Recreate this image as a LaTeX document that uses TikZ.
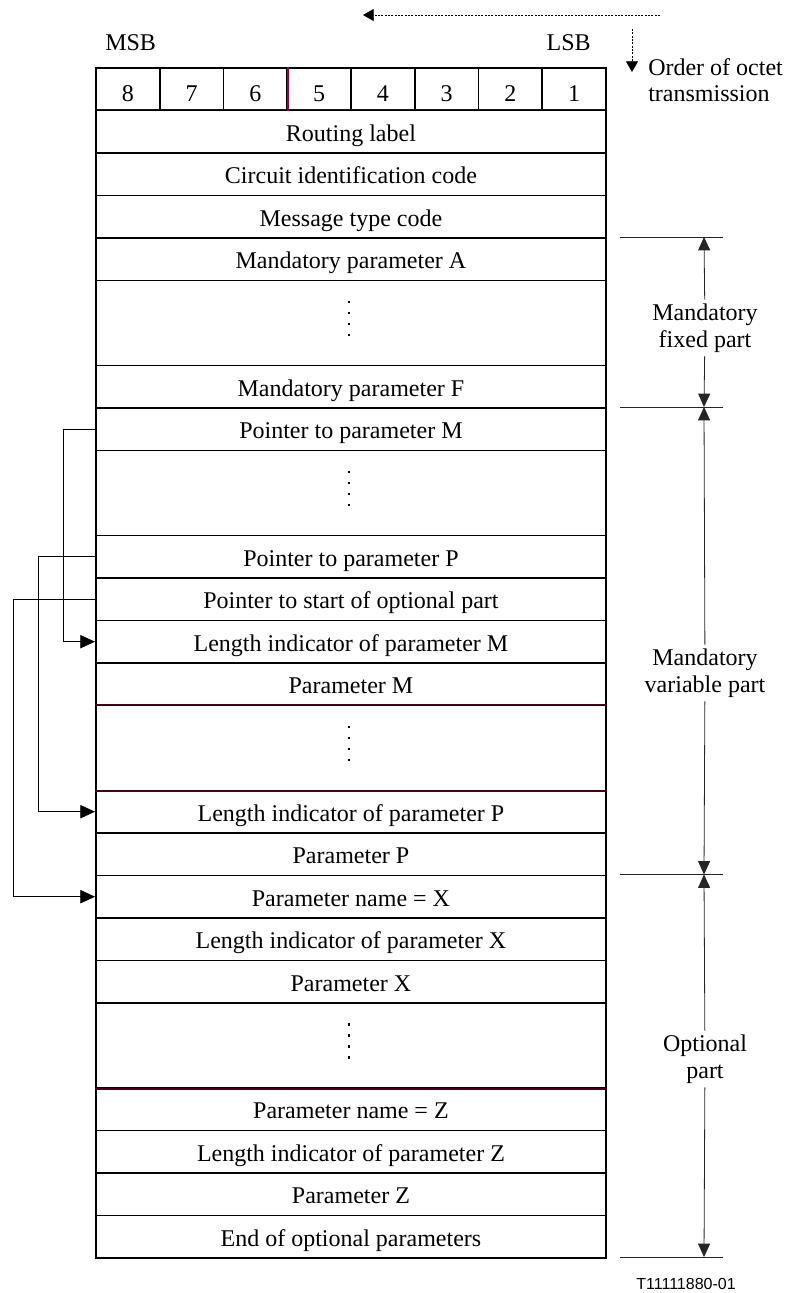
\documentclass[tikz,border=0pt]{standalone}
\usepackage{fontspec}
\setmainfont{Liberation Serif}
\setsansfont{Liberation Sans}
\usetikzlibrary{arrows.meta}
\definecolor{sepred}{RGB}{150,0,60}
\definecolor{darkmaroon}{RGB}{70,0,25}

\begin{document}
\begin{tikzpicture}[x=0.75pt,y=0.75pt,
  font=\fontsize{18}{20}\selectfont,
  fieldrow/.style={draw=black, line width=1.4pt, anchor=north west, minimum width=382.5pt, minimum height=31.875pt, text height=14pt, text depth=0pt},
  gaprow/.style={fieldrow, minimum height=63.75pt},
  bitcell/.style={draw=black, line width=1.4pt, anchor=north west, minimum width=47.8125pt, minimum height=31.875pt, text height=18.5pt, text depth=0pt},
  vdotline/.style={line width=1.8pt, dash pattern=on 1.8pt off 6.4pt},
  ptrarrow/.style={line width=0.6pt, -{Triangle[length=11pt,width=10pt]}},
  dimarrow/.style={line width=0.6pt, black!85, -{Triangle[length=10pt,width=9pt]}},
  tickline/.style={line width=0.6pt, black!85},
  orderarrow/.style={line width=0.6pt, dash pattern=on 1.5pt off 1pt, -{Triangle[length=8pt,width=9pt]}},
  partlabel/.style={align=center, inner sep=3pt}]
\tikzstyle{every node}+=[inner sep=0pt]
\useasboundingbox (0,0) rectangle (785,-1293);

% bit numbers
\node (c8) [bitcell] at (95,-67) {8};
\node (c7) [bitcell] at (158.75,-67) {7};
\node (c6) [bitcell] at (222.5,-67) {6};
\node (c5) [bitcell] at (286.25,-67) {5};
\node (c4) [bitcell] at (350,-67) {4};
\node (c3) [bitcell] at (413.75,-67) {3};
\node (c2) [bitcell] at (477.5,-67) {2};
\node (c1) [bitcell] at (541.25,-67) {1};
\node (msb) [anchor=west] at (105,-43) {MSB};
\node (lsb) [anchor=east] at (591,-43) {LSB};

% octets
\node (routing) [fieldrow] at (95,-109.5) {Routing label};
\node (cic) [fieldrow] at (95,-152) {Circuit identification code};
\node (mtc) [fieldrow] at (95,-194.5) {Message type code};
\node (parA) [fieldrow] at (95,-237) {Mandatory parameter A};
\node (gapA) [gaprow] at (95,-279.5) {};
\node (parF) [fieldrow] at (95,-364.5) {Mandatory parameter F};
\node (ptrM) [fieldrow] at (95,-407) {Pointer to parameter M};
\node (gapM) [gaprow] at (95,-449.5) {};
\node (ptrP) [fieldrow] at (95,-534.5) {Pointer to parameter P};
\node (ptrO) [fieldrow] at (95,-577) {Pointer to start of optional part};
\node (lenM) [fieldrow] at (95,-619.5) {Length indicator of parameter M};
\node (parM) [fieldrow] at (95,-662) {Parameter M};
\node (gapP) [gaprow] at (95,-704.5) {};
\node (lenP) [fieldrow] at (95,-789.5) {Length indicator of parameter P};
\node (parP) [fieldrow] at (95,-832) {Parameter P};
\node (nameX) [fieldrow] at (95,-874.5) {Parameter name = X};
\node (lenX) [fieldrow] at (95,-917) {Length indicator of parameter X};
\node (parX) [fieldrow] at (95,-959.5) {Parameter X};
\node (gapX) [gaprow] at (95,-1002) {};
\node (nameZ) [fieldrow] at (95,-1087) {Parameter name = Z};
\node (lenZ) [fieldrow] at (95,-1129.5) {Length indicator of parameter Z};
\node (parZ) [fieldrow] at (95,-1172) {Parameter Z};
\node (endO) [fieldrow] at (95,-1214.5) {End of optional parameters};

% coloured rules
\draw [sepred, line width=1.4pt] (c6.north east) -- (c6.south east);
\draw [darkmaroon, line width=1.4pt] (routing.north west) -- (routing.north east);
\draw [darkmaroon, line width=1.4pt] (gapP.north west) -- (gapP.north east);
\draw [darkmaroon, line width=1.4pt] (gapP.south west) -- (gapP.south east);
\draw [darkmaroon, line width=1.4pt] (gapX.south west) -- (gapX.south east);

% dots
\draw [vdotline] ([xshift=-1.5pt,yshift=16.5pt]gapA.center) -- ([xshift=-1.5pt,yshift=-10pt]gapA.center);
\draw [vdotline] ([xshift=-1.5pt,yshift=16.5pt]gapM.center) -- ([xshift=-1.5pt,yshift=-10pt]gapM.center);
\draw [vdotline] ([xshift=-1.5pt,yshift=16.5pt]gapP.center) -- ([xshift=-1.5pt,yshift=-10pt]gapP.center);
\draw [vdotline] ([xshift=-1.5pt,yshift=16.5pt]gapX.center) -- ([xshift=-1.5pt,yshift=-10pt]gapX.center);

% pointers
\draw [ptrarrow] (ptrM.west) -- ++(-32,0) |- (lenM.west);
\draw [ptrarrow] (ptrP.west) -- ++(-57,0) |- (lenP.west);
\draw [ptrarrow] (ptrO.west) -- ++(-82,0) |- (nameX.west);

% order of transmission
\coordinate (hs) at (660,-15);
\coordinate (he) at (363,-15);
\coordinate (vs) at (632,-29);
\coordinate (ve) at (632,-72);
\draw [orderarrow] (hs) -- (he);
\draw [orderarrow] (vs) -- (ve);
\node (order) [anchor=west, align=left] at (648,-80) {Order of octet\\transmission};

% parts
\coordinate (t1) at (704,-237);
\coordinate (t2) at (704,-407);
\coordinate (t3) at (704,-874.5);
\coordinate (t4) at (704,-1257);
\draw [tickline] (620,-237) -- (723,-237);
\draw [tickline] (620,-407) -- (723,-407);
\draw [tickline] (620,-874.5) -- (723,-874.5);
\draw [tickline] (620,-1257) -- (723,-1257);
\node (fixed) [partlabel] at (705,-328) {Mandatory\\fixed part};
\node (variable) [partlabel] at (705,-673) {Mandatory\\variable part};
\node (optional) [partlabel] at (705,-1059) {Optional\\part};
\draw [dimarrow] (fixed) -- (t1);
\draw [dimarrow] (fixed) -- (t2);
\draw [dimarrow] (variable) -- (t2);
\draw [dimarrow] (variable) -- (t3);
\draw [dimarrow] (optional) -- (t3);
\draw [dimarrow] (optional) -- (t4);

\node (figno) [font=\sffamily\fontsize{12}{14}\selectfont] at (686,-1284) {T11111880-01};
\end{tikzpicture}
\end{document}
